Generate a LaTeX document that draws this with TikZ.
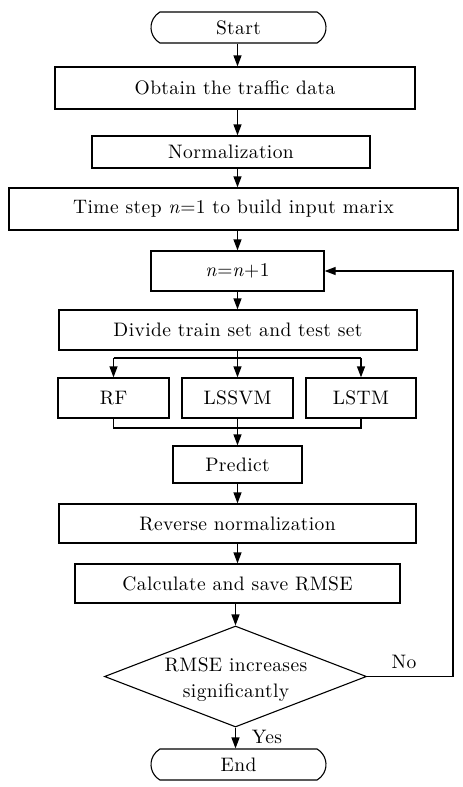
\documentclass[tikz,border=0pt]{standalone}
\usepackage{fontspec}
\setmainfont{lmroman10-regular}[Extension=.otf,ItalicFont=lmroman10-italic,LetterSpace=2]
\usetikzlibrary{shapes.geometric,shapes.misc,arrows.meta}
\newcommand\myfont{\fontsize{19.5}{26}\selectfont}
\begin{document}
\begin{tikzpicture}[x=1pt,y=-1pt,
  every node/.style={font=\myfont},
  box/.style={draw,line width=1.3pt,rectangle,inner sep=0pt,minimum height=40pt},
  term/.style={draw,line width=1.1pt,rounded rectangle,rounded rectangle arc length=120,inner sep=0pt,minimum width=175pt,minimum height=31pt},
  arr/.style={line width=1.3pt,-{Triangle[length=11pt,width=8pt]}},
  ln/.style={line width=1.3pt}]
\useasboundingbox (0,0) rectangle (463,787);
\node[term] (start) at (238.5,27.5) {Start};
\node[box,minimum width=360pt,minimum height=42pt] (obtain) at (235,88) {Obtain the traffic data};
\node[box,minimum width=278pt,minimum height=32pt] (norm) at (231,152) {Normalization};
\node[box,minimum width=449pt,minimum height=42pt] (time) at (233.5,209) {Time step \textit{n}=1 to build input marix};
\node[box,minimum width=173pt] (nn) at (237.5,271) {\textit{n}=\textit{n}+1};
\node[box,minimum width=358pt] (divide) at (238,330) {Divide train set and test set};
\node[box,minimum width=111pt] (rf) at (113.5,398) {RF};
\node[box,minimum width=111pt] (lssvm) at (237.5,398) {LSSVM};
\node[box,minimum width=110pt] (lstm) at (361,398) {LSTM};
\node[box,minimum width=129pt,minimum height=37pt] (predict) at (237.5,464.5) {Predict};
\node[box,minimum width=357pt,minimum height=39pt] (reverse) at (237.5,523.5) {Reverse normalization};
\node[box,minimum width=325pt,minimum height=39pt] (calc) at (237.5,583.5) {Calculate and save RMSE};
\node[draw,line width=1.1pt,diamond,aspect=2.6,inner sep=0pt,minimum width=262pt,minimum height=101pt] (dia) at (235.5,676.5) {};
\node[align=center] (diatext) at (236,680) {RMSE increases\\significantly};
\node[term] (end) at (238.5,764.5) {End};
\coordinate (ax) at (237.5,0);
\coordinate (br) at (237.5,358);
\coordinate (mg) at (237.5,428);
\coordinate (fb) at (453,676.5);
\draw[arr] (start.south -| ax) -- (obtain.north -| ax);
\draw[arr] (obtain.south -| ax) -- (norm.north -| ax);
\draw[arr] (norm.south -| ax) -- (time.north -| ax);
\draw[arr] (time.south -| ax) -- (nn.north -| ax);
\draw[arr] (nn.south -| ax) -- (divide.north -| ax);
\draw[ln] (divide.south -| br) -- (br);
\draw[ln] (br -| rf) -- (br -| lstm);
\draw[arr] (br -| rf) -- (rf.north);
\draw[arr] (br) -- (lssvm.north);
\draw[arr] (br -| lstm) -- (lstm.north);
\draw[ln] (rf.south) -- (rf.south |- mg) -- (lstm.south |- mg) -- (lstm.south);
\draw[arr] (lssvm.south) -- (predict.north);
\draw[arr] (predict) -- (reverse);
\draw[arr] (reverse) -- (calc);
\draw[arr] (calc.south -| dia) -- (dia.north);
\draw[arr] (dia.south) -- (end.north -| dia);
\draw[arr] (dia.east) -- (fb) |- (nn.east);
\node (no) at (404,662) {No};
\node (yes) at (267,737) {Yes};
\end{tikzpicture}
\end{document}
